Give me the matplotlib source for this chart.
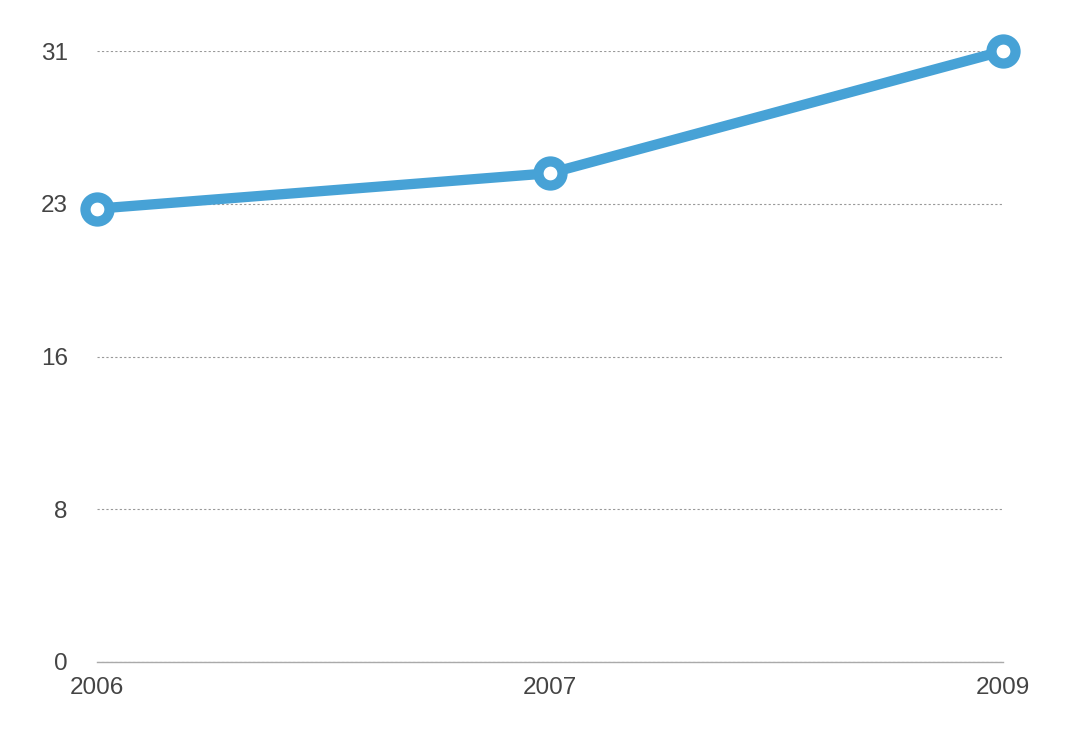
import matplotlib
matplotlib.use("Agg")
from matplotlib import pyplot as plt
import numpy as np

years = ['2006', '2007', '2009']
values = [23.0, 24.8, 31.0]
y_ticks = [0, 7.75, 15.5, 23.25, 31]
y_labels = ['0', '8', '16', '23', '31']

plt.rcParams['font.family'] = ['Liberation Sans', 'DejaVu Sans']

fig = plt.figure(figsize=(10.74, 7.4), dpi=100)
ax = fig.add_axes([97/1074, 1 - 662/740, (1003-97)/1074, (662-51)/740])

x = np.arange(len(years))
ax.plot(x, values, color='#47a2d6', lw=7.4, marker='o', ms=17.3,
        mfc='white', mec='#47a2d6', mew=7.4, clip_on=False, zorder=3,
        solid_capstyle='butt')

ax.set_xlim(0, len(years) - 1)
ax.set_ylim(0, 31)
ax.set_xticks(x)
ax.set_xticklabels(years)
ax.set_yticks(y_ticks)
ax.set_yticklabels(y_labels)

ax.grid(axis='y', color='#999999', linestyle=(0, (2, 2)), lw=0.8)
ax.set_axisbelow(True)
for s in ['top', 'right', 'left']:
    ax.spines[s].set_visible(False)
ax.spines['bottom'].set_color('#aaaaaa')
ax.spines['bottom'].set_linewidth(1)
ax.spines['bottom'].set_zorder(1)

ax.tick_params(axis='both', length=0, labelsize=17.5, colors='#444444')
ax.tick_params(axis='y', pad=21)
ax.tick_params(axis='x', pad=11)

plt.savefig('out.png', dpi=100)
